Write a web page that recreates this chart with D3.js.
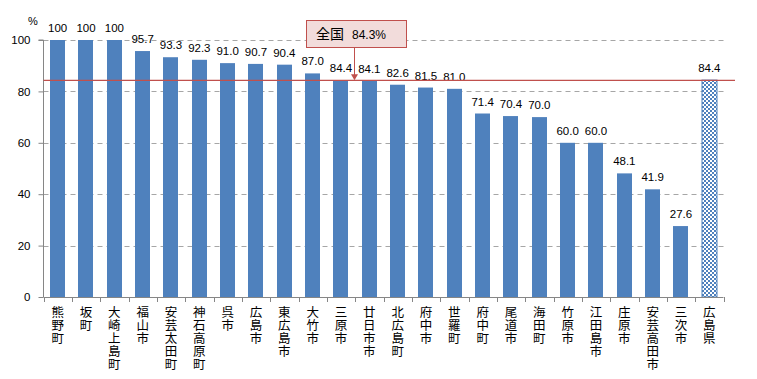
<!DOCTYPE html>
<html><head><meta charset="utf-8">
<script src="https://cdn.jsdelivr.net/npm/d3@7"></script>
<style>body{margin:0;background:#fff}svg{display:block}</style>
</head><body>
<svg id="c" width="757" height="379"></svg>
<script>
const categories = ["熊野町","坂町","大崎上島町","福山市","安芸太田町","神石高原町","呉市","広島市","東広島市","大竹市","三原市","廿日市市","北広島町","府中市","世羅町","府中町","尾道市","海田町","竹原市","江田島市","庄原市","安芸高田市","三次市","広島県"];
const values = [100,100,100,95.7,93.3,92.3,91.0,90.7,90.4,87.0,84.4,84.1,82.6,81.5,81.0,71.4,70.4,70.0,60.0,60.0,48.1,41.9,27.6,84.4];
const valueLabels = ["100","100","100","95.7","93.3","92.3","91.0","90.7","90.4","87.0","84.4","84.1","82.6","81.5","81.0","71.4","70.4","70.0","60.0","60.0","48.1","41.9","27.6","84.4"];
const yTicks = [0,20,40,60,80,100];
const nationalValue = 84.3;
const nationalLabel = "全国";
const nationalText = "84.3%";
const highlightCategory = "広島県";

(function(){
const svg = d3.select("#c");
const pl = 43.5, pr = 723.5, pt = 40, pb = 297;
const x = d3.scaleBand().domain(categories).range([pl, pr]).paddingInner(0.46).paddingOuter(0.23);
const y = d3.scaleLinear().domain([0,100]).range([pb, pt]);
const font = "'Liberation Sans', 'Noto Sans CJK JP', sans-serif";

const defs = svg.append("defs");
const pat = defs.append("pattern").attr("id","chk").attr("width",4).attr("height",4).attr("patternUnits","userSpaceOnUse");
pat.append("rect").attr("width",4).attr("height",4).attr("fill","#fff");
pat.append("rect").attr("width",2).attr("height",2).attr("fill","#4f81bd");
pat.append("rect").attr("x",2).attr("y",2).attr("width",2).attr("height",2).attr("fill","#4f81bd");

// gridlines
svg.append("g").selectAll("line").data(yTicks.filter(d=>d>0)).join("line")
  .attr("x1",pl).attr("x2",726).attr("y1",d=>Math.round(y(d))+0.5).attr("y2",d=>Math.round(y(d))+0.5)
  .attr("stroke","#a6a6a6").attr("stroke-dasharray","5,4").attr("stroke-width",1);

// bars
svg.append("g").selectAll("rect").data(categories).join("rect")
  .attr("x",d=>Math.round(x(d))).attr("width",Math.round(x.bandwidth()))
  .attr("y",(d,i)=>y(values[i])).attr("height",(d,i)=>pb-y(values[i]))
  .attr("fill",d=>d===highlightCategory?"url(#chk)":"#4f81bd")
  .attr("stroke",d=>d===highlightCategory?"#4f81bd":"none");

// value labels
svg.append("g").selectAll("text").data(categories).join("text")
  .attr("x",d=>x(d)+x.bandwidth()/2).attr("y",(d,i)=>y(values[i])-8)
  .attr("text-anchor","middle").attr("font-family",font).attr("font-size",11.5).attr("fill","#000")
  .text((d,i)=>valueLabels[i]);

// y axis
const ya = svg.append("g").attr("transform",`translate(${pl},0)`)
  .call(d3.axisLeft(y).tickValues(yTicks).tickSize(5).tickPadding(8).tickFormat(d3.format("d")));
ya.select(".domain").attr("stroke","#868686").attr("d",`M-5,${pt}H0V${pb}`);
ya.selectAll(".tick line").attr("stroke","#868686");
ya.selectAll("text").attr("font-family",font).attr("font-size",11.5).attr("fill","#000");
svg.append("text").attr("x",33).attr("y",25).attr("text-anchor","middle").attr("font-family",font).attr("font-size",11).text("%");

// x axis
const xa = svg.append("g").attr("transform",`translate(0,${pb})`);
xa.append("line").attr("x1",pl).attr("x2",pr).attr("y1",0.5).attr("y2",0.5).attr("stroke","#868686");
const bounds = categories.map((d,i)=>pl + i*(pr-pl)/categories.length).concat([pr]);
xa.selectAll("line.t").data(bounds).join("line").attr("class","t")
  .attr("x1",d=>Math.round(d)+0.5).attr("x2",d=>Math.round(d)+0.5).attr("y1",0).attr("y2",5).attr("stroke","#868686");
xa.selectAll("text.c").data(categories).join("text").attr("class","c")
  .attr("font-family","'Noto Sans CJK JP', sans-serif").attr("font-size",12.5).attr("fill","#000")
  .attr("writing-mode","vertical-rl").style("letter-spacing","0.5px")
  .attr("x",d=>x(d)+x.bandwidth()/2).attr("y",9)
  .text(d=>d);

// national line
svg.append("line").attr("x1",pl).attr("x2",735).attr("y1",y(nationalValue)).attr("y2",y(nationalValue))
  .attr("stroke","#c0504d").attr("stroke-width",1.2);

// annotation
const ax = 354;
svg.append("line").attr("x1",ax+0.5).attr("x2",ax+0.5).attr("y1",47).attr("y2",y(nationalValue)-5)
  .attr("stroke","#c0504d").attr("stroke-width",1);
svg.append("path").attr("d",`M${ax-3},${y(nationalValue)-6}L${ax+4},${y(nationalValue)-6}L${ax+0.5},${y(nationalValue)}Z`).attr("fill","#c0504d");
svg.append("rect").attr("x",306.5).attr("y",20.5).attr("width",100).attr("height",27)
  .attr("fill","#f2dcdb").attr("stroke","#c0504d").attr("stroke-width",1);
const at = svg.append("text").attr("x",316).attr("y",39).attr("font-family","'Noto Sans CJK JP', sans-serif").attr("fill","#000");
at.append("tspan").attr("font-size",14).text(nationalLabel);
at.append("tspan").attr("dx",8).attr("font-size",12).attr("font-family",font).text(nationalText);
})();
</script>
</body></html>
